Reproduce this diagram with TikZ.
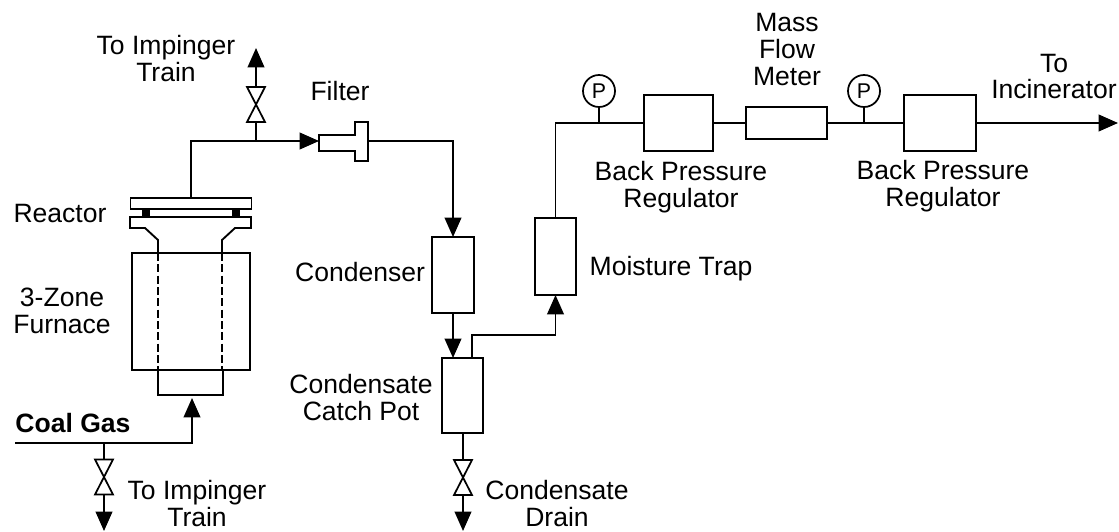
\documentclass[tikz,border=0pt]{standalone}
\usepackage{fontspec}
\setmainfont{Liberation Sans}
\usetikzlibrary{arrows.meta}
\newcommand{\px}{0.75pt}

\tikzset{
 pipe/.style={line width=1.3pt},
 flow/.style={pipe,-{Triangle[length=14.5pt,width=12.5pt]}},
 vessel/.style={draw,line width=1.4pt,inner sep=0pt,outer sep=0pt},
 gauge/.style={draw,circle,line width=1.3pt,inner sep=0pt,outer sep=0pt,minimum size=32*\px,font=\fontsize{16}{16}\selectfont},
 valvebox/.style={inner sep=0pt,outer sep=0pt,minimum width=18*\px,minimum height=35*\px},
 label/.style={align=center,anchor=base,font=\fontsize{19.9}{20.25}\selectfont},
}

% bowtie valve, drawn from the corners of its node
\newcommand{\valve}[2]{
 \node[valvebox] (#1) at (#2) {};
 \draw[pipe] (#1.north west) -- (#1.south east) -- (#1.south west) -- (#1.north east) -- cycle;
}

\begin{document}
\begin{tikzpicture}[x=0.75pt,y=-0.75pt]

 \useasboundingbox (0,0) rectangle (1119,531);

 \coordinate (junctionTop) at (256,141);
 \coordinate (exitTop) at (256,48);
 \coordinate (junctionGas) at (104,443);
 \coordinate (exitGas) at (104,531);
 \coordinate (exitDrain) at (463,531);
 \coordinate (exitRight) at (1118,123);
 \coordinate (gasIn) at (15,443);
 \coordinate (gasEnd) at (192,398);
 \coordinate (filterIn) at (319,141);
 \coordinate (filterOut) at (368,141);
 \coordinate (potIn) at (453,358);
 \coordinate (potOut) at (472,358);

 % reactor and furnace
 \node[vessel,minimum width=121*\px,minimum height=11*\px] (reactorTop) at (191,203.5) {};
 \node[vessel,minimum width=118*\px,minimum height=117*\px] (furnace) at (191,311.5) {};
 \node[vessel,minimum width=65*\px,minimum height=25*\px] (cup) at (190.5,382.5) {};
 \draw[vessel] (130,217) -- (251,217) -- (251,228) -- (235,228) -- (222,240) -- (222,253)
  -- (158,253) -- (158,240) -- (145,228) -- (130,228) -- cycle;
 \fill (142,209) rectangle (150,217);
 \fill (232,209) rectangle (240,217);
 \draw[pipe,dash pattern=on 6pt off 2.5pt] (158,253) -- (158,370);
 \draw[pipe,dash pattern=on 6pt off 2.5pt] (222,253) -- (222,370);

 % filter
 \draw[vessel] (filterIn) -- (319,135) -- (355,135) -- (355,122) -- (368,122) -- (368,161) -- (355,161) -- (355,151) -- (319,151) -- cycle;

 % vessels and regulators
 \node[vessel,minimum width=42*\px,minimum height=76*\px] (condenser) at (453,275) {};
 \node[vessel,minimum width=41*\px,minimum height=75*\px] (pot) at (462.5,395.5) {};
 \node[vessel,minimum width=41*\px,minimum height=77*\px] (trap) at (555.5,256.5) {};
 \node[vessel,minimum width=69*\px,minimum height=56*\px] (bprA) at (678.5,123) {};
 \node[vessel,minimum width=81*\px,minimum height=32*\px] (meter) at (786.5,123) {};
 \node[vessel,minimum width=72*\px,minimum height=56*\px] (bprB) at (940,123) {};
 \node[gauge] (gaugeA) at (599,91) {P};
 \node[gauge] (gaugeB) at (864,91) {P};

 \valve{valveTop}{256,104.5}
 \valve{valveGas}{104,477}
 \valve{valveDrain}{463,477.5}

 % piping
 \draw[flow] (reactorTop.north) |- (filterIn);
 \draw[pipe] (junctionTop) -- (valveTop.south);
 \draw[flow] (valveTop.north) -- (exitTop);
 \draw[flow] (filterOut) -| (condenser.north);
 \draw[flow] (condenser.south) -- (potIn);
 \draw[flow] (potOut) -- ++(0,-23) -| (trap.south);
 \draw[pipe] (trap.north) |- (bprA.west);
 \draw[pipe] (bprA.east) -- (meter.west);
 \draw[pipe] (meter.east) -- (bprB.west);
 \draw[flow] (bprB.east) -- (exitRight);
 \draw[pipe] (gaugeA.south) -- (gaugeA.south |- bprA.west);
 \draw[pipe] (gaugeB.south) -- (gaugeB.south |- bprB.west);
 \draw[flow] (gasIn) -| (gasEnd);
 \draw[pipe] (junctionGas) -- (valveGas.north);
 \draw[flow] (valveGas.south) -- (exitGas);
 \draw[pipe] (pot.south -| valveDrain.north) -- (valveDrain.north);
 \draw[flow] (valveDrain.south) -- (exitDrain);

 % labels, placed by the baseline of their last line
 \node[label] (lblTopTrain) at (166,82) {To Impinger\\Train};
 \node[label] (lblFilter) at (340,101) {Filter};
 \node[label] (lblReactor) at (60,222) {Reactor};
 \node[label] (lblFurnace) at (62,333) {3-Zone\\Furnace};
 \node[label,font=\fontsize{19.9}{20.25}\selectfont\bfseries] (lblGas) at (73,432) {Coal Gas};
 \node[label] (lblLowTrain) at (197,526) {To Impinger\\Train};
 \node[label] (lblCondenser) at (360,281) {Condenser};
 \node[label] (lblPot) at (361,420) {Condensate\\Catch Pot};
 \node[label] (lblDrain) at (557,526) {Condensate\\Drain};
 \node[label] (lblTrap) at (671,275) {Moisture Trap};
 \node[label] (lblBprA) at (681,207) {Back Pressure\\Regulator};
 \node[label] (lblMeter) at (787,86) {Mass\\Flow\\Meter};
 \node[label] (lblBprB) at (943,206) {Back Pressure\\Regulator};
 \node[label] (lblExit) at (1054,99) {To\\Incinerator};

\end{tikzpicture}
\end{document}
